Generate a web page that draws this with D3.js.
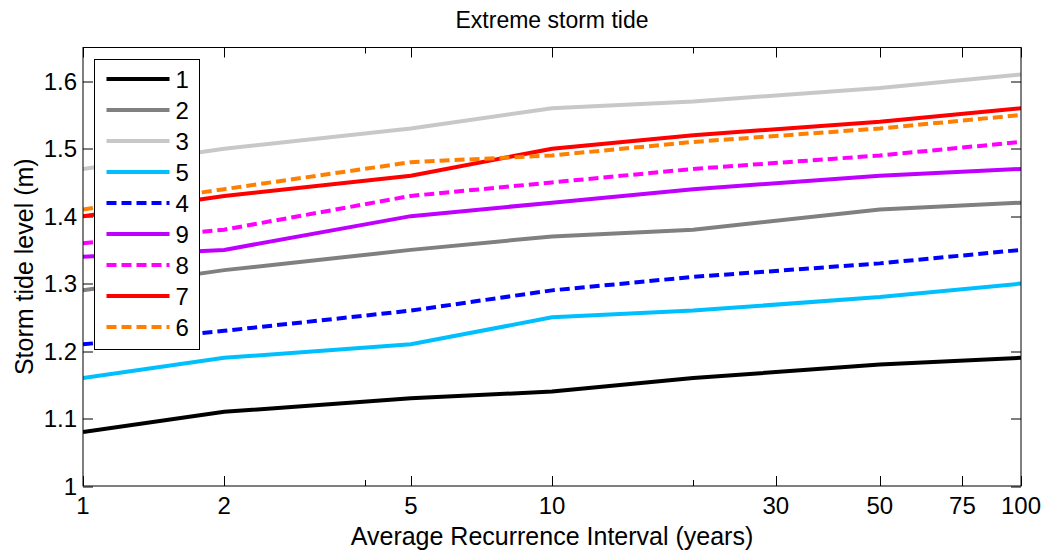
<!DOCTYPE html>
<html>
<head>
<meta charset="utf-8">
<script src="https://cdn.jsdelivr.net/npm/d3@7"></script>
<style>
  body { margin: 0; background: #fff; }
  text { font-family: "Liberation Sans", Arial, sans-serif; fill: #000; }
</style>
</head>
<body>
<div id="chart"></div>
<script>
// recurrence intervals (years) where values were read
const intervals = [1, 2, 5, 10, 20, 50, 100];

// storm tide levels (m), one array per site
const site1 = [1.08, 1.11, 1.13, 1.14, 1.16, 1.18, 1.19];
const site2 = [1.29, 1.32, 1.35, 1.37, 1.38, 1.41, 1.42];
const site3 = [1.47, 1.50, 1.53, 1.56, 1.57, 1.59, 1.61];
const site5 = [1.16, 1.19, 1.21, 1.25, 1.26, 1.28, 1.30];
const site4 = [1.21, 1.23, 1.26, 1.29, 1.31, 1.33, 1.35];
const site9 = [1.34, 1.35, 1.40, 1.42, 1.44, 1.46, 1.47];
const site8 = [1.36, 1.38, 1.43, 1.45, 1.47, 1.49, 1.51];
const site7 = [1.40, 1.43, 1.46, 1.50, 1.52, 1.54, 1.56];
const site6 = [1.41, 1.44, 1.48, 1.49, 1.51, 1.53, 1.55];

const seriesNames = ['1', '2', '3', '5', '4', '9', '8', '7', '6'];
const seriesValues = [site1, site2, site3, site5, site4, site9, site8, site7, site6];
const seriesColors = ['#000000', '#808080', '#c8c8c8', '#00bfff', '#0000ff', '#bf00ff', '#ff00ff', '#ff0000', '#ff8000'];
const seriesDashed = [false, false, false, false, true, false, true, false, true];

const xTicks = [1, 2, 4, 5, 10, 20, 30, 50, 75, 100];
const xTickLabels = ['1', '2', '', '5', '10', '', '30', '50', '75', '100'];
const yTicks = [1, 1.1, 1.2, 1.3, 1.4, 1.5, 1.6];

const width = 1046, height = 552;
const margin = { top: 47.5, right: 25, bottom: 66, left: 83 };
const innerW = width - margin.left - margin.right;
const innerH = height - margin.top - margin.bottom;

const svg = d3.select('#chart').append('svg')
  .attr('width', width)
  .attr('height', height);

const g = svg.append('g')
  .attr('transform', 'translate(' + margin.left + ',' + margin.top + ')');

const x = d3.scaleLog().domain([1, 100]).range([0, innerW]);
const y = d3.scaleLinear().domain([1, 1.65]).range([innerH, 0]);

// ticks point inward on all four sides
const majorLen = 10, minorLen = 6;
const isMinor = (d, i) => xTickLabels[i] === '';

const ticks = g.append('g').attr('stroke', '#000').attr('stroke-width', 1);
xTicks.forEach((d, i) => {
  const len = isMinor(d, i) ? minorLen : majorLen;
  const px = Math.round(x(d)) + 0.5;
  ticks.append('line').attr('x1', px).attr('x2', px).attr('y1', innerH).attr('y2', innerH - len);
  ticks.append('line').attr('x1', px).attr('x2', px).attr('y1', 0).attr('y2', len);
});
yTicks.forEach(d => {
  const py = Math.round(y(d)) + 0.5;
  ticks.append('line').attr('x1', 0).attr('x2', majorLen).attr('y1', py).attr('y2', py);
  ticks.append('line').attr('x1', innerW).attr('x2', innerW - majorLen).attr('y1', py).attr('y2', py);
});

g.append('g').selectAll('text')
  .data(xTicks)
  .enter().append('text')
  .attr('x', d => x(d))
  .attr('y', innerH + 28)
  .attr('text-anchor', 'middle')
  .attr('font-size', 24)
  .text((d, i) => xTickLabels[i]);

g.append('g').selectAll('text')
  .data(yTicks)
  .enter().append('text')
  .attr('x', -6)
  .attr('y', d => y(d) + 8.5)
  .attr('text-anchor', 'end')
  .attr('font-size', 24)
  .text(d => d3.format('~g')(d));

// series lines
const line = d3.line()
  .x((d, i) => x(intervals[i]))
  .y(d => y(d));

svg.append('clipPath').attr('id', 'plotclip')
  .append('rect').attr('width', innerW).attr('height', innerH);

g.append('g').attr('clip-path', 'url(#plotclip)')
  .selectAll('path')
  .data(seriesValues)
  .enter().append('path')
  .attr('fill', 'none')
  .attr('stroke', (d, i) => seriesColors[i])
  .attr('stroke-width', 4)
  .attr('stroke-dasharray', (d, i) => seriesDashed[i] ? '10,5' : null)
  .attr('d', line);

// frame
g.append('rect')
  .attr('x', 0).attr('y', 0)
  .attr('width', innerW).attr('height', innerH)
  .attr('fill', 'none')
  .attr('stroke', '#000')
  .attr('stroke-width', 1);

// legend
const legend = svg.append('g').attr('transform', 'translate(94.5,59.5)');
legend.append('rect')
  .attr('width', 105).attr('height', 290)
  .attr('fill', '#fff')
  .attr('stroke', '#000')
  .attr('stroke-width', 1);

const rows = legend.selectAll('g.row')
  .data(seriesNames)
  .enter().append('g')
  .attr('class', 'row')
  .attr('transform', (d, i) => 'translate(0,' + (19.5 + i * 31) + ')');

rows.append('line')
  .attr('x1', 12).attr('x2', 75)
  .attr('stroke', (d, i) => seriesColors[i])
  .attr('stroke-width', 4)
  .attr('stroke-dasharray', (d, i) => seriesDashed[i] ? '10,5' : null);

rows.append('text')
  .attr('x', 81)
  .attr('y', 8.5)
  .attr('font-size', 24)
  .text(d => d);

// title and axis labels
svg.append('text')
  .attr('x', margin.left + innerW / 2)
  .attr('y', 28)
  .attr('text-anchor', 'middle')
  .attr('font-size', 23)
  .text('Extreme storm tide');

svg.append('text')
  .attr('x', margin.left + innerW / 2)
  .attr('y', 545)
  .attr('text-anchor', 'middle')
  .attr('font-size', 25)
  .text('Average Recurrence Interval (years)');

svg.append('text')
  .attr('transform', 'translate(33,' + (margin.top + innerH / 2) + ') rotate(-90)')
  .attr('text-anchor', 'middle')
  .attr('font-size', 25)
  .text('Storm tide level (m)');
</script>
</body>
</html>
